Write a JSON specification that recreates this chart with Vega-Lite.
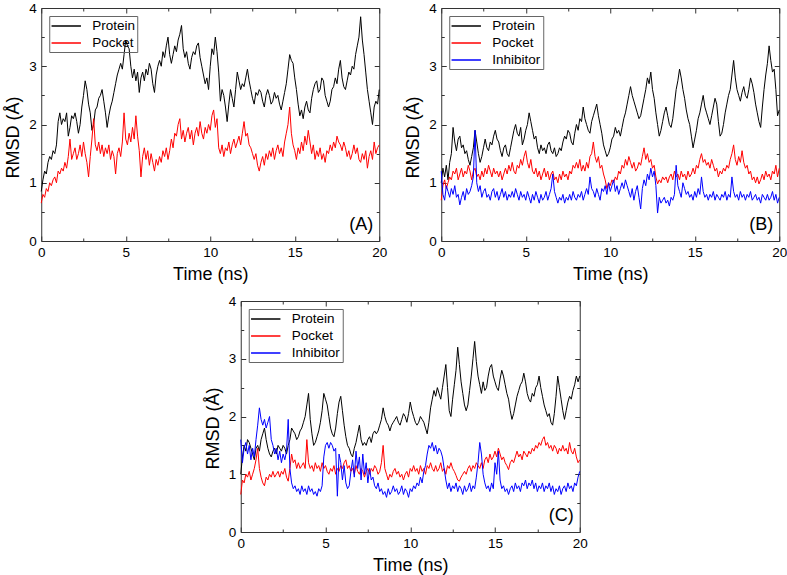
{
"$schema": "https://vega.github.io/schema/vega-lite/v6.json",
"padding": {"left": 4, "top": 1, "right": 1, "bottom": 1},
"config": {
  "font": "Liberation Sans",
  "view": {"stroke": null},
  "axis": {"grid": false, "domainColor": "#333333", "tickColor": "#333333", "tickWidth": 1, "domainWidth": 1, "labelFont": "Liberation Sans", "titleFont": "Liberation Sans", "labelFontSize": 13.5, "titleFontSize": 18, "titleFontWeight": "normal", "labelColor": "#000000", "titleColor": "#000000", "titlePadding": 5, "labelFlush": false, "labelOverlap": false},
  "legend": {"title": null, "orient": "top-left", "offset": 8, "symbolSize": 196, "symbolStrokeWidth": 1.5, "symbolOffset": 7, "labelFont": "Liberation Sans", "labelFontSize": 13.5, "labelColor": "#000000", "strokeColor": "#666666", "padding": 2, "rowPadding": 2, "labelOffset": 18}
},
"datasets": {
"A": [
{"t":0,"P":0.85,"K":0.65},{"t":0.1,"P":1.05,"K":0.8},{"t":0.2,"P":1.2,"K":0.75},{"t":0.3,"P":1.15,"K":0.9},{"t":0.4,"P":1.35,"K":0.85},{"t":0.5,"P":1.45,"K":1.0},{"t":0.6,"P":1.4,"K":0.95},{"t":0.7,"P":1.55,"K":1.05},{"t":0.8,"P":1.5,"K":1.1},{"t":0.9,"P":1.65,"K":1.0},
{"t":1,"P":2.05,"K":1.2},{"t":1.1,"P":2.2,"K":1.15},{"t":1.2,"P":2.0,"K":1.25},{"t":1.3,"P":2.1,"K":1.2},{"t":1.4,"P":2.05,"K":1.35},{"t":1.5,"P":2.2,"K":1.25},{"t":1.6,"P":1.8,"K":1.45},{"t":1.7,"P":1.95,"K":1.75},{"t":1.8,"P":2.15,"K":1.4},{"t":1.9,"P":2.1,"K":1.5},
{"t":2,"P":2.2,"K":1.6},{"t":2.1,"P":2.05,"K":1.4},{"t":2.2,"P":1.85,"K":1.5},{"t":2.3,"P":2.0,"K":1.65},{"t":2.4,"P":2.3,"K":1.45},{"t":2.5,"P":2.5,"K":1.7},{"t":2.6,"P":2.75,"K":1.5},{"t":2.7,"P":2.6,"K":1.35},{"t":2.8,"P":2.35,"K":1.1},{"t":2.9,"P":2.2,"K":1.45},
{"t":3,"P":1.9,"K":1.75},{"t":3.1,"P":2.0,"K":2.1},{"t":3.2,"P":2.25,"K":1.65},{"t":3.3,"P":2.3,"K":1.55},{"t":3.4,"P":2.45,"K":1.7},{"t":3.5,"P":2.5,"K":1.5},{"t":3.6,"P":2.6,"K":1.65},{"t":3.7,"P":2.4,"K":1.45},{"t":3.8,"P":2.2,"K":1.6},{"t":3.9,"P":1.95,"K":1.5},
{"t":4,"P":2.15,"K":1.65},{"t":4.1,"P":2.3,"K":1.4},{"t":4.2,"P":2.4,"K":1.55},{"t":4.3,"P":2.55,"K":1.45},{"t":4.4,"P":2.7,"K":1.15},{"t":4.5,"P":2.85,"K":1.5},{"t":4.6,"P":2.95,"K":1.6},{"t":4.7,"P":3.05,"K":1.45},{"t":4.8,"P":2.95,"K":1.7},{"t":4.9,"P":3.2,"K":2.2},
{"t":5,"P":3.45,"K":1.75},{"t":5.1,"P":3.35,"K":1.65},{"t":5.2,"P":3.3,"K":1.85},{"t":5.3,"P":3.0,"K":1.7},{"t":5.4,"P":2.8,"K":1.95},{"t":5.5,"P":2.95,"K":1.75},{"t":5.6,"P":2.75,"K":2.15},{"t":5.7,"P":2.9,"K":1.8},{"t":5.8,"P":2.55,"K":1.55},{"t":5.9,"P":2.8,"K":1.1},
{"t":6,"P":2.9,"K":1.45},{"t":6.1,"P":2.75,"K":1.6},{"t":6.2,"P":2.95,"K":1.4},{"t":6.3,"P":2.85,"K":1.55},{"t":6.4,"P":3.05,"K":1.3},{"t":6.5,"P":2.95,"K":1.5},{"t":6.6,"P":2.7,"K":1.35},{"t":6.7,"P":2.55,"K":1.2},{"t":6.8,"P":2.85,"K":1.4},{"t":6.9,"P":3.0,"K":1.3},
{"t":7,"P":3.1,"K":1.45},{"t":7.1,"P":3.0,"K":1.35},{"t":7.2,"P":3.25,"K":1.55},{"t":7.3,"P":3.15,"K":1.45},{"t":7.4,"P":3.35,"K":1.6},{"t":7.5,"P":3.5,"K":1.4},{"t":7.6,"P":3.2,"K":1.55},{"t":7.7,"P":3.05,"K":1.75},{"t":7.8,"P":3.2,"K":1.6},{"t":7.9,"P":3.35,"K":1.85},
{"t":8,"P":3.25,"K":1.8},{"t":8.1,"P":3.45,"K":2.0},{"t":8.2,"P":3.55,"K":2.1},{"t":8.3,"P":3.7,"K":1.75},{"t":8.4,"P":3.3,"K":1.9},{"t":8.5,"P":3.15,"K":1.7},{"t":8.6,"P":3.25,"K":1.85},{"t":8.7,"P":3.05,"K":1.95},{"t":8.8,"P":2.95,"K":1.75},{"t":8.9,"P":3.15,"K":1.9},
{"t":9,"P":3.25,"K":1.65},{"t":9.1,"P":3.2,"K":1.85},{"t":9.2,"P":3.35,"K":1.95},{"t":9.3,"P":3.4,"K":1.8},{"t":9.4,"P":3.15,"K":2.05},{"t":9.5,"P":3.0,"K":1.85},{"t":9.6,"P":2.85,"K":1.75},{"t":9.7,"P":2.7,"K":1.95},{"t":9.8,"P":2.8,"K":1.85},{"t":9.9,"P":2.6,"K":2.0},
{"t":10,"P":3.0,"K":1.9},{"t":10.1,"P":3.3,"K":2.15},{"t":10.2,"P":3.2,"K":2.25},{"t":10.3,"P":3.5,"K":1.95},{"t":10.4,"P":3.25,"K":2.1},{"t":10.5,"P":2.9,"K":1.6},{"t":10.6,"P":2.4,"K":1.5},{"t":10.7,"P":2.6,"K":1.65},{"t":10.8,"P":2.5,"K":1.45},{"t":10.9,"P":2.3,"K":1.6},
{"t":11,"P":2.05,"K":1.55},{"t":11.1,"P":2.35,"K":1.7},{"t":11.2,"P":2.6,"K":1.5},{"t":11.3,"P":2.45,"K":1.65},{"t":11.4,"P":2.3,"K":1.75},{"t":11.5,"P":2.6,"K":1.6},{"t":11.6,"P":2.9,"K":1.7},{"t":11.7,"P":2.75,"K":1.8},{"t":11.8,"P":2.6,"K":1.65},{"t":11.9,"P":2.7,"K":1.85},
{"t":12,"P":2.65,"K":2.05},{"t":12.1,"P":2.8,"K":1.8},{"t":12.2,"P":2.95,"K":1.85},{"t":12.3,"P":2.75,"K":1.65},{"t":12.4,"P":2.6,"K":1.6},{"t":12.5,"P":2.45,"K":1.5},{"t":12.6,"P":2.35,"K":1.4},{"t":12.7,"P":2.55,"K":1.5},{"t":12.8,"P":2.5,"K":1.3},{"t":12.9,"P":2.6,"K":1.2},
{"t":13,"P":2.55,"K":1.35},{"t":13.1,"P":2.4,"K":1.45},{"t":13.2,"P":2.3,"K":1.3},{"t":13.3,"P":2.5,"K":1.5},{"t":13.4,"P":2.6,"K":1.4},{"t":13.5,"P":2.5,"K":1.55},{"t":13.6,"P":2.35,"K":1.45},{"t":13.7,"P":2.4,"K":1.6},{"t":13.8,"P":2.55,"K":1.4},{"t":13.9,"P":2.45,"K":1.55},
{"t":14,"P":2.5,"K":1.65},{"t":14.1,"P":2.35,"K":1.5},{"t":14.2,"P":2.25,"K":1.6},{"t":14.3,"P":2.4,"K":1.45},{"t":14.4,"P":2.55,"K":1.7},{"t":14.5,"P":2.7,"K":1.85},{"t":14.6,"P":2.95,"K":2.0},{"t":14.7,"P":3.2,"K":2.3},{"t":14.8,"P":3.1,"K":1.85},{"t":14.9,"P":3.05,"K":1.65},
{"t":15,"P":2.8,"K":1.55},{"t":15.1,"P":2.6,"K":1.4},{"t":15.2,"P":2.35,"K":1.6},{"t":15.3,"P":2.15,"K":1.5},{"t":15.4,"P":2.25,"K":1.7},{"t":15.5,"P":2.1,"K":1.55},{"t":15.6,"P":2.3,"K":1.8},{"t":15.7,"P":2.4,"K":1.65},{"t":15.8,"P":2.25,"K":1.9},{"t":15.9,"P":2.2,"K":1.7},
{"t":16,"P":2.45,"K":1.5},{"t":16.1,"P":2.6,"K":1.65},{"t":16.2,"P":2.7,"K":1.4},{"t":16.3,"P":2.75,"K":1.55},{"t":16.4,"P":2.55,"K":1.45},{"t":16.5,"P":2.6,"K":1.6},{"t":16.6,"P":2.8,"K":1.4},{"t":16.7,"P":2.75,"K":1.5},{"t":16.8,"P":2.5,"K":1.35},{"t":16.9,"P":2.4,"K":1.55},
{"t":17,"P":2.3,"K":1.5},{"t":17.1,"P":2.4,"K":1.65},{"t":17.2,"P":2.6,"K":1.55},{"t":17.3,"P":2.65,"K":1.7},{"t":17.4,"P":2.8,"K":1.6},{"t":17.5,"P":2.7,"K":1.8},{"t":17.6,"P":2.95,"K":1.7},{"t":17.7,"P":3.1,"K":1.65},{"t":17.8,"P":2.8,"K":1.55},{"t":17.9,"P":2.65,"K":1.7},
{"t":18,"P":2.6,"K":1.6},{"t":18.1,"P":2.75,"K":1.45},{"t":18.2,"P":2.9,"K":1.55},{"t":18.3,"P":2.85,"K":1.4},{"t":18.4,"P":3.0,"K":1.5},{"t":18.5,"P":2.95,"K":1.65},{"t":18.6,"P":3.2,"K":1.5},{"t":18.7,"P":3.35,"K":1.6},{"t":18.8,"P":3.5,"K":1.4},{"t":18.9,"P":3.85,"K":1.35},
{"t":19,"P":3.45,"K":1.5},{"t":19.1,"P":3.2,"K":1.4},{"t":19.2,"P":2.9,"K":1.55},{"t":19.3,"P":2.6,"K":1.25},{"t":19.4,"P":2.4,"K":1.45},{"t":19.5,"P":2.2,"K":1.55},{"t":19.6,"P":2.0,"K":1.4},{"t":19.7,"P":2.3,"K":1.7},{"t":19.8,"P":2.4,"K":1.5},{"t":19.9,"P":2.35,"K":1.6},
{"t":20,"P":2.6,"K":1.65}
],
"B": [
{"t":0,"P":1.0,"K":0.7,"I":1.2},{"t":0.1,"P":1.25,"K":0.95,"I":0.8},{"t":0.2,"P":1.1,"K":1.05,"I":0.7},{"t":0.3,"P":1.3,"K":0.9,"I":0.95},{"t":0.4,"P":1.05,"K":1.0,"I":0.85},{"t":0.5,"P":1.35,"K":1.1,"I":0.75},{"t":0.6,"P":1.5,"K":1.05,"I":0.9},{"t":0.7,"P":1.95,"K":1.2,"I":0.8},{"t":0.8,"P":1.7,"K":1.15,"I":0.95},{"t":0.9,"P":1.55,"K":1.25,"I":0.75},
{"t":1,"P":1.75,"K":1.05,"I":0.8},{"t":1.1,"P":1.8,"K":1.15,"I":0.62},{"t":1.2,"P":1.6,"K":1.25,"I":0.75},{"t":1.3,"P":1.65,"K":1.1,"I":0.85},{"t":1.4,"P":1.5,"K":1.2,"I":0.7},{"t":1.5,"P":1.55,"K":1.15,"I":0.9},{"t":1.6,"P":1.4,"K":1.3,"I":0.8},{"t":1.7,"P":1.3,"K":1.2,"I":0.85},{"t":1.8,"P":1.45,"K":1.05,"I":0.95},{"t":1.9,"P":1.6,"K":1.2,"I":1.1},
{"t":2,"P":1.9,"K":1.25,"I":1.9},{"t":2.1,"P":1.7,"K":1.1,"I":1.0},{"t":2.2,"P":1.5,"K":1.15,"I":0.85},{"t":2.3,"P":1.35,"K":1.05,"I":0.95},{"t":2.4,"P":1.45,"K":1.2,"I":0.75},{"t":2.5,"P":1.6,"K":1.1,"I":0.85},{"t":2.6,"P":1.75,"K":1.25,"I":0.9},{"t":2.7,"P":1.6,"K":1.15,"I":0.75},{"t":2.8,"P":1.55,"K":1.3,"I":0.8},{"t":2.9,"P":1.7,"K":1.2,"I":0.7},
{"t":3,"P":1.65,"K":1.1,"I":0.85},{"t":3.1,"P":1.8,"K":1.25,"I":0.9},{"t":3.2,"P":1.9,"K":1.15,"I":0.75},{"t":3.3,"P":1.75,"K":1.2,"I":0.85},{"t":3.4,"P":1.7,"K":1.1,"I":0.7},{"t":3.5,"P":1.55,"K":1.2,"I":0.8},{"t":3.6,"P":1.45,"K":1.05,"I":0.9},{"t":3.7,"P":1.6,"K":1.15,"I":0.75},{"t":3.8,"P":1.65,"K":1.25,"I":0.85},{"t":3.9,"P":1.5,"K":1.15,"I":0.7},
{"t":4,"P":1.45,"K":1.3,"I":0.8},{"t":4.1,"P":1.6,"K":1.2,"I":0.75},{"t":4.2,"P":1.75,"K":1.35,"I":0.85},{"t":4.3,"P":1.9,"K":1.2,"I":0.75},{"t":4.4,"P":2.0,"K":1.15,"I":0.9},{"t":4.5,"P":1.85,"K":1.3,"I":0.8},{"t":4.6,"P":1.8,"K":1.25,"I":0.7},{"t":4.7,"P":1.95,"K":1.4,"I":0.85},{"t":4.8,"P":1.65,"K":1.3,"I":0.75},{"t":4.9,"P":1.75,"K":1.45,"I":0.8},
{"t":5,"P":1.9,"K":1.55,"I":0.7},{"t":5.1,"P":2.0,"K":1.35,"I":0.85},{"t":5.2,"P":2.2,"K":1.25,"I":0.75},{"t":5.3,"P":2.05,"K":1.4,"I":0.65},{"t":5.4,"P":1.9,"K":1.2,"I":0.8},{"t":5.5,"P":1.75,"K":1.15,"I":0.7},{"t":5.6,"P":1.8,"K":1.25,"I":0.85},{"t":5.7,"P":1.6,"K":1.1,"I":0.75},{"t":5.8,"P":1.5,"K":1.2,"I":0.65},{"t":5.9,"P":1.65,"K":1.05,"I":0.8},
{"t":6,"P":1.55,"K":1.15,"I":0.7},{"t":6.1,"P":1.6,"K":1.25,"I":0.75},{"t":6.2,"P":1.5,"K":1.1,"I":0.85},{"t":6.3,"P":1.65,"K":1.2,"I":0.7},{"t":6.4,"P":1.7,"K":1.05,"I":0.8},{"t":6.5,"P":1.55,"K":1.15,"I":0.9},{"t":6.6,"P":1.5,"K":1.2,"I":1.15},{"t":6.7,"P":1.6,"K":1.05,"I":0.85},{"t":6.8,"P":1.45,"K":1.1,"I":0.75},{"t":6.9,"P":1.5,"K":1.0,"I":0.65},
{"t":7,"P":1.6,"K":1.15,"I":0.75},{"t":7.1,"P":1.55,"K":1.05,"I":0.7},{"t":7.2,"P":1.7,"K":1.2,"I":0.8},{"t":7.3,"P":1.8,"K":1.1,"I":0.65},{"t":7.4,"P":1.75,"K":1.15,"I":0.75},{"t":7.5,"P":1.9,"K":1.05,"I":0.7},{"t":7.6,"P":1.85,"K":1.2,"I":0.8},{"t":7.7,"P":1.7,"K":1.15,"I":0.7},{"t":7.8,"P":1.65,"K":1.3,"I":0.85},{"t":7.9,"P":1.85,"K":1.25,"I":0.75},
{"t":8,"P":2.0,"K":1.35,"I":0.7},{"t":8.1,"P":1.9,"K":1.25,"I":0.8},{"t":8.2,"P":2.1,"K":1.4,"I":0.75},{"t":8.3,"P":2.05,"K":1.2,"I":0.85},{"t":8.4,"P":2.3,"K":1.3,"I":0.7},{"t":8.5,"P":2.1,"K":1.2,"I":0.8},{"t":8.6,"P":2.0,"K":1.35,"I":0.9},{"t":8.7,"P":1.9,"K":1.25,"I":0.8},{"t":8.8,"P":1.85,"K":1.45,"I":1.1},{"t":8.9,"P":2.05,"K":1.5,"I":0.9},
{"t":9,"P":2.15,"K":1.7,"I":0.85},{"t":9.1,"P":2.25,"K":1.45,"I":0.75},{"t":9.2,"P":2.35,"K":1.35,"I":0.9},{"t":9.3,"P":2.15,"K":1.45,"I":0.8},{"t":9.4,"P":2.0,"K":1.25,"I":0.7},{"t":9.5,"P":1.85,"K":1.3,"I":0.9},{"t":9.6,"P":1.65,"K":1.15,"I":0.85},{"t":9.7,"P":1.55,"K":1.05,"I":0.95},{"t":9.8,"P":1.45,"K":0.9,"I":0.8},{"t":9.9,"P":1.5,"K":1.0,"I":1.0},
{"t":10,"P":1.6,"K":0.95,"I":0.85},{"t":10.1,"P":1.75,"K":1.05,"I":0.95},{"t":10.2,"P":1.8,"K":1.0,"I":1.05},{"t":10.3,"P":1.95,"K":1.1,"I":0.85},{"t":10.4,"P":1.85,"K":1.05,"I":0.95},{"t":10.5,"P":1.9,"K":1.2,"I":0.8},{"t":10.6,"P":1.8,"K":1.15,"I":0.9},{"t":10.7,"P":1.95,"K":1.3,"I":1.0},{"t":10.8,"P":2.1,"K":1.25,"I":0.9},{"t":10.9,"P":2.2,"K":1.4,"I":1.05},
{"t":11,"P":2.35,"K":1.3,"I":0.95},{"t":11.1,"P":2.5,"K":1.45,"I":0.85},{"t":11.2,"P":2.65,"K":1.35,"I":0.75},{"t":11.3,"P":2.5,"K":1.25,"I":0.9},{"t":11.4,"P":2.4,"K":1.35,"I":0.7},{"t":11.5,"P":2.3,"K":1.2,"I":0.85},{"t":11.6,"P":2.2,"K":1.25,"I":0.95},{"t":11.7,"P":2.1,"K":1.35,"I":0.75},{"t":11.8,"P":2.15,"K":1.3,"I":0.55},{"t":11.9,"P":2.3,"K":1.45,"I":0.9},
{"t":12,"P":2.45,"K":1.6,"I":1.05},{"t":12.1,"P":2.6,"K":1.4,"I":0.95},{"t":12.2,"P":2.8,"K":1.5,"I":1.15},{"t":12.3,"P":2.7,"K":1.35,"I":1.05},{"t":12.4,"P":2.9,"K":1.4,"I":1.25},{"t":12.5,"P":2.6,"K":1.25,"I":1.1},{"t":12.6,"P":2.45,"K":1.3,"I":1.2},{"t":12.7,"P":2.2,"K":1.1,"I":0.95},{"t":12.8,"P":2.0,"K":0.98,"I":0.48},{"t":12.9,"P":1.8,"K":1.05,"I":0.75},
{"t":13,"P":1.9,"K":1.0,"I":0.65},{"t":13.1,"P":2.05,"K":1.1,"I":0.7},{"t":13.2,"P":2.2,"K":1.05,"I":0.75},{"t":13.3,"P":2.3,"K":1.1,"I":0.65},{"t":13.4,"P":2.15,"K":1.0,"I":0.7},{"t":13.5,"P":2.0,"K":1.1,"I":0.6},{"t":13.6,"P":1.95,"K":1.15,"I":0.75},{"t":13.7,"P":2.1,"K":1.05,"I":0.7},{"t":13.8,"P":2.35,"K":1.2,"I":0.8},{"t":13.9,"P":2.6,"K":1.1,"I":1.3},
{"t":14,"P":2.75,"K":1.15,"I":0.95},{"t":14.1,"P":2.95,"K":1.05,"I":0.85},{"t":14.2,"P":2.8,"K":1.2,"I":0.75},{"t":14.3,"P":2.6,"K":1.1,"I":1.0},{"t":14.4,"P":2.45,"K":1.15,"I":0.9},{"t":14.5,"P":2.25,"K":1.05,"I":0.8},{"t":14.6,"P":2.1,"K":1.2,"I":0.85},{"t":14.7,"P":2.0,"K":1.1,"I":0.75},{"t":14.8,"P":1.8,"K":1.15,"I":0.8},{"t":14.9,"P":1.6,"K":1.25,"I":0.7},
{"t":15,"P":1.75,"K":1.15,"I":0.85},{"t":15.1,"P":1.9,"K":1.3,"I":0.75},{"t":15.2,"P":2.1,"K":1.25,"I":0.9},{"t":15.3,"P":2.2,"K":1.4,"I":0.8},{"t":15.4,"P":2.35,"K":1.5,"I":1.1},{"t":15.5,"P":2.5,"K":1.35,"I":0.85},{"t":15.6,"P":2.3,"K":1.4,"I":0.75},{"t":15.7,"P":2.2,"K":1.3,"I":0.8},{"t":15.8,"P":2.1,"K":1.35,"I":0.7},{"t":15.9,"P":2.0,"K":1.25,"I":0.8},
{"t":16,"P":2.15,"K":1.4,"I":0.75},{"t":16.1,"P":2.3,"K":1.3,"I":0.85},{"t":16.2,"P":2.45,"K":1.2,"I":0.7},{"t":16.3,"P":2.35,"K":1.25,"I":0.8},{"t":16.4,"P":2.05,"K":1.1,"I":0.75},{"t":16.5,"P":1.8,"K":1.2,"I":0.7},{"t":16.6,"P":1.85,"K":1.15,"I":0.8},{"t":16.7,"P":2.0,"K":1.25,"I":0.75},{"t":16.8,"P":2.2,"K":1.2,"I":0.85},{"t":16.9,"P":2.35,"K":1.3,"I":0.7},
{"t":17,"P":2.5,"K":1.25,"I":0.8},{"t":17.1,"P":2.6,"K":1.4,"I":0.75},{"t":17.2,"P":2.85,"K":1.5,"I":1.1},{"t":17.3,"P":3.1,"K":1.65,"I":0.85},{"t":17.4,"P":2.8,"K":1.4,"I":0.75},{"t":17.5,"P":2.6,"K":1.3,"I":0.8},{"t":17.6,"P":2.5,"K":1.45,"I":0.7},{"t":17.7,"P":2.4,"K":1.35,"I":0.85},{"t":17.8,"P":2.55,"K":1.55,"I":0.75},{"t":17.9,"P":2.65,"K":1.35,"I":0.8},
{"t":18,"P":2.5,"K":1.25,"I":0.7},{"t":18.1,"P":2.45,"K":1.3,"I":0.8},{"t":18.2,"P":2.6,"K":1.15,"I":0.75},{"t":18.3,"P":2.8,"K":1.2,"I":0.85},{"t":18.4,"P":2.7,"K":1.05,"I":0.7},{"t":18.5,"P":2.55,"K":1.1,"I":0.75},{"t":18.6,"P":2.35,"K":1.0,"I":0.8},{"t":18.7,"P":2.2,"K":1.1,"I":0.7},{"t":18.8,"P":2.05,"K":0.98,"I":0.75},{"t":18.9,"P":1.95,"K":1.05,"I":0.65},
{"t":19,"P":2.3,"K":1.15,"I":0.8},{"t":19.1,"P":2.6,"K":1.05,"I":0.75},{"t":19.2,"P":2.85,"K":1.2,"I":0.7},{"t":19.3,"P":3.05,"K":1.1,"I":0.8},{"t":19.4,"P":3.35,"K":1.15,"I":0.7},{"t":19.5,"P":3.1,"K":1.05,"I":0.75},{"t":19.6,"P":2.9,"K":1.2,"I":0.85},{"t":19.7,"P":2.95,"K":1.15,"I":0.7},{"t":19.8,"P":2.6,"K":1.3,"I":0.8},{"t":19.9,"P":2.15,"K":1.1,"I":0.65},
{"t":20,"P":2.25,"K":1.25,"I":0.75}
],
"C": [
{"t":0,"P":1.0,"K":0.65,"I":1.6},{"t":0.1,"P":1.3,"K":0.9,"I":1.2},{"t":0.2,"P":1.5,"K":0.85,"I":1.45},{"t":0.3,"P":1.4,"K":1.0,"I":1.55},{"t":0.4,"P":1.6,"K":0.95,"I":1.35},{"t":0.5,"P":1.55,"K":1.05,"I":1.5},{"t":0.6,"P":1.45,"K":0.9,"I":1.25},{"t":0.7,"P":1.35,"K":1.0,"I":1.45},{"t":0.8,"P":1.25,"K":1.1,"I":1.3},{"t":0.9,"P":1.45,"K":1.25,"I":1.6},
{"t":1,"P":1.5,"K":1.45,"I":1.85},{"t":1.1,"P":1.4,"K":1.1,"I":2.15},{"t":1.2,"P":1.6,"K":0.95,"I":1.95},{"t":1.3,"P":1.7,"K":0.85,"I":1.85},{"t":1.4,"P":1.8,"K":0.8,"I":1.95},{"t":1.5,"P":1.6,"K":0.95,"I":1.8},{"t":1.6,"P":1.45,"K":0.9,"I":1.9},{"t":1.7,"P":1.35,"K":1.0,"I":2.0},{"t":1.8,"P":1.3,"K":0.95,"I":1.6},{"t":1.9,"P":1.4,"K":1.05,"I":1.5},
{"t":2,"P":1.45,"K":0.95,"I":1.35},{"t":2.1,"P":1.35,"K":1.0,"I":1.45},{"t":2.2,"P":1.5,"K":1.05,"I":1.25},{"t":2.3,"P":1.45,"K":0.95,"I":1.4},{"t":2.4,"P":1.4,"K":1.05,"I":1.2},{"t":2.5,"P":1.5,"K":1.0,"I":1.35},{"t":2.6,"P":1.45,"K":1.1,"I":1.25},{"t":2.7,"P":1.35,"K":0.95,"I":1.4},{"t":2.8,"P":1.5,"K":0.88,"I":1.95},{"t":2.9,"P":1.6,"K":1.1,"I":1.1},
{"t":3,"P":1.8,"K":1.35,"I":0.85},{"t":3.1,"P":1.75,"K":1.2,"I":0.75},{"t":3.2,"P":1.7,"K":1.25,"I":0.8},{"t":3.3,"P":1.6,"K":1.1,"I":0.7},{"t":3.4,"P":1.65,"K":1.2,"I":0.75},{"t":3.5,"P":1.75,"K":1.1,"I":0.65},{"t":3.6,"P":1.8,"K":1.15,"I":0.8},{"t":3.7,"P":1.9,"K":1.2,"I":0.7},{"t":3.8,"P":2.0,"K":1.1,"I":0.75},{"t":3.9,"P":2.2,"K":1.6,"I":0.65},
{"t":4,"P":2.4,"K":1.2,"I":0.8},{"t":4.1,"P":1.95,"K":1.1,"I":0.7},{"t":4.2,"P":1.7,"K":1.15,"I":0.75},{"t":4.3,"P":1.5,"K":1.05,"I":0.65},{"t":4.4,"P":1.55,"K":1.2,"I":0.7},{"t":4.5,"P":1.65,"K":1.1,"I":0.62},{"t":4.6,"P":1.75,"K":1.15,"I":0.75},{"t":4.7,"P":1.9,"K":1.05,"I":0.7},{"t":4.8,"P":2.1,"K":1.2,"I":0.8},{"t":4.9,"P":2.4,"K":1.1,"I":1.3},
{"t":5,"P":2.3,"K":1.15,"I":1.5},{"t":5.1,"P":2.2,"K":1.05,"I":1.55},{"t":5.2,"P":2.0,"K":1.0,"I":1.45},{"t":5.3,"P":1.8,"K":1.1,"I":1.55},{"t":5.4,"P":1.7,"K":1.05,"I":1.5},{"t":5.5,"P":1.65,"K":1.15,"I":1.4},{"t":5.6,"P":1.8,"K":1.0,"I":1.45},{"t":5.7,"P":2.05,"K":1.1,"I":0.62},{"t":5.8,"P":2.25,"K":1.05,"I":1.35},{"t":5.9,"P":2.35,"K":1.15,"I":1.2},
{"t":6,"P":2.1,"K":1.1,"I":0.9},{"t":6.1,"P":1.85,"K":1.2,"I":1.15},{"t":6.2,"P":1.65,"K":1.25,"I":0.85},{"t":6.3,"P":1.5,"K":1.1,"I":0.75},{"t":6.4,"P":1.45,"K":1.15,"I":0.8},{"t":6.5,"P":1.35,"K":1.05,"I":1.05},{"t":6.6,"P":1.3,"K":1.1,"I":1.25},{"t":6.7,"P":1.45,"K":1.0,"I":0.95},{"t":6.8,"P":1.55,"K":1.15,"I":1.4},{"t":6.9,"P":1.7,"K":1.05,"I":1.1},
{"t":7,"P":1.85,"K":1.0,"I":1.3},{"t":7.1,"P":1.6,"K":1.1,"I":0.9},{"t":7.2,"P":1.5,"K":1.05,"I":1.35},{"t":7.3,"P":1.55,"K":0.95,"I":1.0},{"t":7.4,"P":1.5,"K":1.05,"I":1.2},{"t":7.5,"P":1.6,"K":1.1,"I":0.85},{"t":7.6,"P":1.65,"K":1.0,"I":1.1},{"t":7.7,"P":1.55,"K":1.1,"I":0.9},{"t":7.8,"P":1.7,"K":1.05,"I":0.95},{"t":7.9,"P":1.75,"K":1.15,"I":0.8},
{"t":8,"P":1.7,"K":1.1,"I":0.75},{"t":8.1,"P":1.75,"K":1.0,"I":0.85},{"t":8.2,"P":1.85,"K":1.05,"I":0.7},{"t":8.3,"P":1.95,"K":1.2,"I":0.75},{"t":8.4,"P":2.15,"K":1.5,"I":0.65},{"t":8.5,"P":2.0,"K":1.1,"I":0.7},{"t":8.6,"P":1.9,"K":1.0,"I":0.6},{"t":8.7,"P":1.85,"K":0.9,"I":0.75},{"t":8.8,"P":1.75,"K":1.0,"I":0.65},{"t":8.9,"P":1.85,"K":0.95,"I":0.7},
{"t":9,"P":1.9,"K":1.05,"I":0.8},{"t":9.1,"P":1.95,"K":1.1,"I":0.7},{"t":9.2,"P":2.0,"K":1.0,"I":0.75},{"t":9.3,"P":1.9,"K":1.05,"I":0.65},{"t":9.4,"P":1.85,"K":0.95,"I":0.7},{"t":9.5,"P":1.95,"K":1.0,"I":0.8},{"t":9.6,"P":2.05,"K":0.9,"I":0.65},{"t":9.7,"P":2.0,"K":1.0,"I":0.75},{"t":9.8,"P":1.9,"K":1.05,"I":0.7},{"t":9.9,"P":2.05,"K":0.95,"I":0.6},
{"t":10,"P":2.25,"K":1.1,"I":0.75},{"t":10.1,"P":2.1,"K":1.05,"I":0.7},{"t":10.2,"P":2.0,"K":1.15,"I":0.8},{"t":10.3,"P":1.9,"K":1.05,"I":0.75},{"t":10.4,"P":1.85,"K":1.1,"I":0.85},{"t":10.5,"P":1.9,"K":1.0,"I":0.8},{"t":10.6,"P":2.0,"K":1.15,"I":0.95},{"t":10.7,"P":1.95,"K":1.05,"I":0.85},{"t":10.8,"P":1.9,"K":1.1,"I":1.05},{"t":10.9,"P":1.8,"K":1.0,"I":1.15},
{"t":11,"P":1.7,"K":1.15,"I":1.35},{"t":11.1,"P":1.9,"K":1.1,"I":1.5},{"t":11.2,"P":2.15,"K":1.2,"I":1.45},{"t":11.3,"P":2.3,"K":1.1,"I":1.55},{"t":11.4,"P":2.45,"K":1.05,"I":1.4},{"t":11.5,"P":2.35,"K":1.15,"I":1.5},{"t":11.6,"P":2.5,"K":1.05,"I":1.35},{"t":11.7,"P":2.4,"K":1.1,"I":1.45},{"t":11.8,"P":2.3,"K":1.2,"I":1.4},{"t":11.9,"P":2.5,"K":1.05,"I":1.3},
{"t":12,"P":2.7,"K":1.1,"I":1.1},{"t":12.1,"P":2.9,"K":1.0,"I":0.9},{"t":12.2,"P":2.5,"K":1.15,"I":0.75},{"t":12.3,"P":2.1,"K":1.1,"I":0.85},{"t":12.4,"P":2.0,"K":1.2,"I":0.7},{"t":12.5,"P":2.3,"K":1.1,"I":0.8},{"t":12.6,"P":2.55,"K":1.05,"I":0.75},{"t":12.7,"P":2.8,"K":0.98,"I":0.85},{"t":12.8,"P":3.2,"K":0.9,"I":0.7},{"t":12.9,"P":2.9,"K":0.88,"I":0.8},
{"t":13,"P":2.6,"K":0.95,"I":0.75},{"t":13.1,"P":2.4,"K":1.0,"I":0.65},{"t":13.2,"P":2.2,"K":1.05,"I":0.8},{"t":13.3,"P":2.1,"K":1.0,"I":0.7},{"t":13.4,"P":2.2,"K":1.1,"I":0.75},{"t":13.5,"P":2.45,"K":1.15,"I":0.85},{"t":13.6,"P":2.7,"K":1.05,"I":0.7},{"t":13.7,"P":3.0,"K":1.15,"I":0.8},{"t":13.8,"P":3.3,"K":1.1,"I":0.75},{"t":13.9,"P":2.95,"K":1.2,"I":0.95},
{"t":14,"P":2.7,"K":1.15,"I":1.2},{"t":14.1,"P":2.55,"K":1.1,"I":1.55},{"t":14.2,"P":2.4,"K":1.2,"I":1.35},{"t":14.3,"P":2.6,"K":1.1,"I":1.0},{"t":14.4,"P":2.45,"K":1.25,"I":0.85},{"t":14.5,"P":2.5,"K":1.3,"I":0.75},{"t":14.6,"P":2.7,"K":1.2,"I":0.8},{"t":14.7,"P":2.85,"K":1.35,"I":0.7},{"t":14.8,"P":2.9,"K":1.25,"I":0.85},{"t":14.9,"P":2.7,"K":1.3,"I":0.75},
{"t":15,"P":2.6,"K":1.4,"I":1.2},{"t":15.1,"P":2.5,"K":1.3,"I":1.0},{"t":15.2,"P":2.45,"K":1.45,"I":1.4},{"t":15.3,"P":2.65,"K":1.35,"I":0.9},{"t":15.4,"P":2.8,"K":1.25,"I":0.75},{"t":15.5,"P":2.7,"K":1.3,"I":0.8},{"t":15.6,"P":2.55,"K":1.2,"I":0.7},{"t":15.7,"P":2.4,"K":1.15,"I":0.75},{"t":15.8,"P":2.3,"K":1.08,"I":0.65},{"t":15.9,"P":2.1,"K":1.2,"I":0.75},
{"t":16,"P":1.95,"K":1.25,"I":0.8},{"t":16.1,"P":2.05,"K":1.2,"I":0.7},{"t":16.2,"P":2.2,"K":1.3,"I":0.85},{"t":16.3,"P":2.35,"K":1.4,"I":0.75},{"t":16.4,"P":2.45,"K":1.3,"I":0.8},{"t":16.5,"P":2.55,"K":1.35,"I":0.7},{"t":16.6,"P":2.6,"K":1.25,"I":0.85},{"t":16.7,"P":2.75,"K":1.4,"I":0.8},{"t":16.8,"P":2.6,"K":1.35,"I":0.9},{"t":16.9,"P":2.4,"K":1.3,"I":0.75},
{"t":17,"P":2.3,"K":1.4,"I":0.85},{"t":17.1,"P":2.25,"K":1.35,"I":0.8},{"t":17.2,"P":2.4,"K":1.45,"I":0.9},{"t":17.3,"P":2.35,"K":1.4,"I":0.75},{"t":17.4,"P":2.5,"K":1.5,"I":0.85},{"t":17.5,"P":2.55,"K":1.45,"I":0.7},{"t":17.6,"P":2.7,"K":1.55,"I":0.8},{"t":17.7,"P":2.5,"K":1.5,"I":0.75},{"t":17.8,"P":2.35,"K":1.6,"I":0.85},{"t":17.9,"P":2.2,"K":1.65,"I":0.7},
{"t":18,"P":2.1,"K":1.5,"I":0.8},{"t":18.1,"P":2.0,"K":1.55,"I":0.75},{"t":18.2,"P":2.05,"K":1.45,"I":0.85},{"t":18.3,"P":1.9,"K":1.5,"I":0.7},{"t":18.4,"P":1.85,"K":1.4,"I":0.8},{"t":18.5,"P":2.05,"K":1.5,"I":0.65},{"t":18.6,"P":2.35,"K":1.45,"I":0.75},{"t":18.7,"P":2.7,"K":1.35,"I":0.7},{"t":18.8,"P":2.5,"K":1.45,"I":0.8},{"t":18.9,"P":2.3,"K":1.4,"I":0.65},
{"t":19,"P":2.1,"K":1.5,"I":0.75},{"t":19.1,"P":1.95,"K":1.4,"I":0.8},{"t":19.2,"P":2.1,"K":1.45,"I":0.7},{"t":19.3,"P":2.25,"K":1.35,"I":0.85},{"t":19.4,"P":2.35,"K":1.55,"I":0.75},{"t":19.5,"P":2.3,"K":1.4,"I":0.8},{"t":19.6,"P":2.45,"K":1.35,"I":0.7},{"t":19.7,"P":2.55,"K":1.45,"I":0.85},{"t":19.8,"P":2.7,"K":1.3,"I":0.8},{"t":19.9,"P":2.6,"K":1.2,"I":0.95},
{"t":20,"P":2.7,"K":1.25,"I":1.05}
]
},
"center": true,
"spacing": 10,
"resolve": {"scale": {"color": "independent"}, "legend": {"color": "independent"}},
"vconcat": [
 {"hconcat": [
  {"width": 338, "height": 233, "data": {"name": "A"},
   "layer": [
    {"transform": [{"fold": ["P","K"], "as": ["s","v"]}],
     "mark": {"type": "line", "strokeWidth": 1},
     "encoding": {
      "x": {"field": "t", "type": "quantitative", "scale": {"domain": [0,20], "nice": false, "zero": false}, "axis": {"orient": "bottom", "title": "Time (ns)", "values": [0,2.5,5,7.5,10,12.5,15,17.5,20], "labelExpr": "datum.value % 5 === 0 ? '' + datum.value : ''", "tickSize": {"condition": {"test": "datum.value % 5 === 0", "value": -5}, "value": -3}, "labelPadding": 9}},
      "y": {"field": "v", "type": "quantitative", "scale": {"domain": [0,4], "nice": false}, "axis": {"orient": "left", "title": "RMSD (Å)", "values": [0,0.5,1,1.5,2,2.5,3,3.5,4], "labelExpr": "datum.value % 1 === 0 ? '' + datum.value : ''", "tickSize": {"condition": {"test": "datum.value % 1 === 0", "value": -5}, "value": -3}, "labelPadding": 10, "titlePadding": 6, "titleY": 129}},
      "color": {"field": "s", "type": "nominal", "scale": {"domain": ["P","K"], "range": ["#000000","#ff0000"]}, "legend": {"symbolType": "M-2.1,0H2.1", "symbolSize": 196, "labelExpr": "datum.label === 'P' ? 'Protein' : datum.label === 'K' ? 'Pocket' : 'Inhibitor'"}}
     }},
    {"transform": [{"fold": ["P","K"], "as": ["s","v"]}],
     "mark": {"type": "line", "opacity": 0},
     "encoding": {
      "x": {"field": "t", "type": "quantitative", "axis": {"orient": "top", "title": null, "labels": false, "values": [0,2.5,5,7.5,10,12.5,15,17.5,20], "tickSize": {"condition": {"test": "datum.value % 5 === 0", "value": -5}, "value": -3}}},
      "y": {"field": "v", "type": "quantitative", "axis": {"orient": "right", "title": null, "labels": false, "values": [0,0.5,1,1.5,2,2.5,3,3.5,4], "tickSize": {"condition": {"test": "datum.value % 1 === 0", "value": -5}, "value": -3}}},
      "detail": {"field": "s"}
     }},
    {"data": {"values": [{"lab": "(A)"}]},
     "mark": {"type": "text", "align": "right", "baseline": "alphabetic", "dx": -6, "dy": -11, "fontSize": 18, "font": "Liberation Sans", "color": "#000000"},
     "encoding": {"x": {"datum": 20, "type": "quantitative", "axis": null}, "y": {"datum": 0, "type": "quantitative", "axis": null}, "text": {"field": "lab"}}}
   ],
   "resolve": {"axis": {"x": "independent", "y": "independent"}}
  },
  {"width": 338, "height": 233, "data": {"name": "B"},
   "layer": [
    {"transform": [{"fold": ["P","K","I"], "as": ["s","v"]}],
     "mark": {"type": "line", "strokeWidth": 1},
     "encoding": {
      "x": {"field": "t", "type": "quantitative", "scale": {"domain": [0,20], "nice": false, "zero": false}, "axis": {"orient": "bottom", "title": "Time (ns)", "values": [0,2.5,5,7.5,10,12.5,15,17.5,20], "labelExpr": "datum.value % 5 === 0 ? '' + datum.value : ''", "tickSize": {"condition": {"test": "datum.value % 5 === 0", "value": -5}, "value": -3}, "labelPadding": 9}},
      "y": {"field": "v", "type": "quantitative", "scale": {"domain": [0,4], "nice": false}, "axis": {"orient": "left", "title": "RMSD (Å)", "values": [0,0.5,1,1.5,2,2.5,3,3.5,4], "labelExpr": "datum.value % 1 === 0 ? '' + datum.value : ''", "tickSize": {"condition": {"test": "datum.value % 1 === 0", "value": -5}, "value": -3}, "labelPadding": 10, "titlePadding": 6, "titleY": 129}},
      "color": {"field": "s", "type": "nominal", "scale": {"domain": ["P","K","I"], "range": ["#000000","#ff0000","#0000ff"]}, "legend": {"symbolType": "M-2.1,0H2.1", "symbolSize": 196, "labelExpr": "datum.label === 'P' ? 'Protein' : datum.label === 'K' ? 'Pocket' : 'Inhibitor'"}}
     }},
    {"transform": [{"fold": ["P","K","I"], "as": ["s","v"]}],
     "mark": {"type": "line", "opacity": 0},
     "encoding": {
      "x": {"field": "t", "type": "quantitative", "axis": {"orient": "top", "title": null, "labels": false, "values": [0,2.5,5,7.5,10,12.5,15,17.5,20], "tickSize": {"condition": {"test": "datum.value % 5 === 0", "value": -5}, "value": -3}}},
      "y": {"field": "v", "type": "quantitative", "axis": {"orient": "right", "title": null, "labels": false, "values": [0,0.5,1,1.5,2,2.5,3,3.5,4], "tickSize": {"condition": {"test": "datum.value % 1 === 0", "value": -5}, "value": -3}}},
      "detail": {"field": "s"}
     }},
    {"data": {"values": [{"lab": "(B)"}]},
     "mark": {"type": "text", "align": "right", "baseline": "alphabetic", "dx": -6, "dy": -11, "fontSize": 18, "font": "Liberation Sans", "color": "#000000"},
     "encoding": {"x": {"datum": 20, "type": "quantitative", "axis": null}, "y": {"datum": 0, "type": "quantitative", "axis": null}, "text": {"field": "lab"}}}
   ],
   "resolve": {"axis": {"x": "independent", "y": "independent"}}
  }
 ], "spacing": 17, "resolve": {"scale": {"color": "independent"}, "legend": {"color": "independent"}}},
 {"width": 339, "height": 231, "data": {"name": "C"},
   "layer": [
    {"transform": [{"fold": ["P","K","I"], "as": ["s","v"]}],
     "mark": {"type": "line", "strokeWidth": 1},
     "encoding": {
      "x": {"field": "t", "type": "quantitative", "scale": {"domain": [0,20], "nice": false, "zero": false}, "axis": {"orient": "bottom", "title": "Time (ns)", "values": [0,2.5,5,7.5,10,12.5,15,17.5,20], "labelExpr": "datum.value % 5 === 0 ? '' + datum.value : ''", "tickSize": {"condition": {"test": "datum.value % 5 === 0", "value": -5}, "value": -3}, "labelPadding": 9}},
      "y": {"field": "v", "type": "quantitative", "scale": {"domain": [0,4], "nice": false}, "axis": {"orient": "left", "title": "RMSD (Å)", "values": [0,0.5,1,1.5,2,2.5,3,3.5,4], "labelExpr": "datum.value % 1 === 0 ? '' + datum.value : ''", "tickSize": {"condition": {"test": "datum.value % 1 === 0", "value": -5}, "value": -3}, "labelPadding": 10, "titlePadding": 6, "titleY": 127}},
      "color": {"field": "s", "type": "nominal", "scale": {"domain": ["P","K","I"], "range": ["#000000","#ff0000","#0000ff"]}, "legend": {"symbolType": "M-2.1,0H2.1", "symbolSize": 196, "labelExpr": "datum.label === 'P' ? 'Protein' : datum.label === 'K' ? 'Pocket' : 'Inhibitor'"}}
     }},
    {"transform": [{"fold": ["P","K","I"], "as": ["s","v"]}],
     "mark": {"type": "line", "opacity": 0},
     "encoding": {
      "x": {"field": "t", "type": "quantitative", "axis": {"orient": "top", "title": null, "labels": false, "values": [0,2.5,5,7.5,10,12.5,15,17.5,20], "tickSize": {"condition": {"test": "datum.value % 5 === 0", "value": -5}, "value": -3}}},
      "y": {"field": "v", "type": "quantitative", "axis": {"orient": "right", "title": null, "labels": false, "values": [0,0.5,1,1.5,2,2.5,3,3.5,4], "tickSize": {"condition": {"test": "datum.value % 1 === 0", "value": -5}, "value": -3}}},
      "detail": {"field": "s"}
     }},
    {"data": {"values": [{"lab": "(C)"}]},
     "mark": {"type": "text", "align": "right", "baseline": "alphabetic", "dx": -6, "dy": -11, "fontSize": 18, "font": "Liberation Sans", "color": "#000000"},
     "encoding": {"x": {"datum": 20, "type": "quantitative", "axis": null}, "y": {"datum": 0, "type": "quantitative", "axis": null}, "text": {"field": "lab"}}}
   ],
   "resolve": {"axis": {"x": "independent", "y": "independent"}}
 }
]
}
